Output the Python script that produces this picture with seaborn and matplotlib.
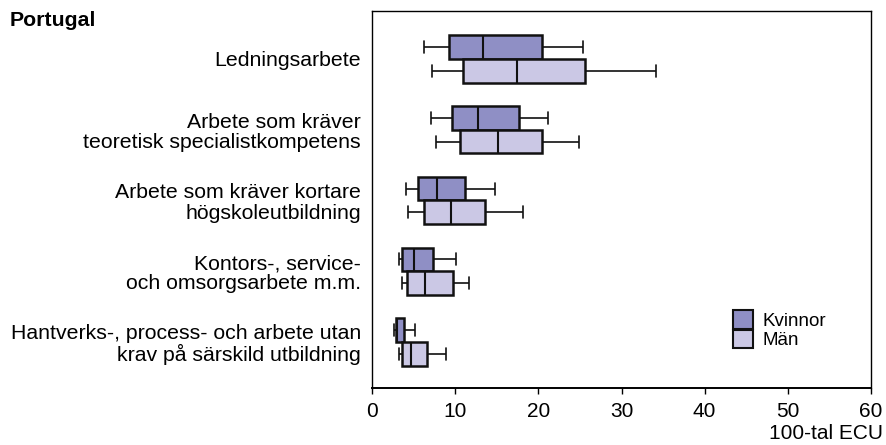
import numpy as np
import pandas as pd
import seaborn as sns
import matplotlib.pyplot as plt
from matplotlib.patches import Patch

# ================================================================
# Data (five-number summaries, 100-tal ECU)
# ================================================================

categories = [
    "Ledningsarbete",
    "Arbete som kräver\nteoretisk specialistkompetens",
    "Arbete som kräver kortare\nhögskoleutbildning",
    "Kontors-, service-\noch omsorgsarbete m.m.",
    "Hantverks-, process- och arbete utan\nkrav på särskild utbildning",
]
groups = ["Kvinnor", "Män"]

kvinnor_low = [6.3, 7.05, 4.1, 3.3, 2.7]
kvinnor_q1 = [9.3, 9.65, 5.5, 3.65, 2.9]
kvinnor_median = [13.4, 12.75, 7.8, 5.05, 3.0]
kvinnor_q3 = [20.5, 17.7, 11.2, 7.3, 3.8]
kvinnor_high = [25.4, 21.15, 14.8, 10.1, 5.2]

man_low = [7.2, 7.65, 4.3, 3.6, 3.2]
man_q1 = [11.0, 10.6, 6.3, 4.25, 3.65]
man_median = [17.4, 15.15, 9.45, 6.4, 4.7]
man_q3 = [25.6, 20.4, 13.6, 9.7, 6.6]
man_high = [34.1, 24.85, 18.2, 11.7, 8.9]

colors = {"Kvinnor": "#8f8fc5", "Män": "#cbc8e5"}


def build_frame():
    """Five values per box: with whis=(0, 100) they give exactly min/q1/median/q3/max."""
    rows = []
    series = {
        "Kvinnor": (kvinnor_low, kvinnor_q1, kvinnor_median, kvinnor_q3, kvinnor_high),
        "Män": (man_low, man_q1, man_median, man_q3, man_high),
    }
    for grp, stats in series.items():
        for i, cat in enumerate(categories):
            for s in stats:
                rows.append({"kategori": cat, "kön": grp, "värde": s[i]})
    return pd.DataFrame(rows)


# ================================================================
# Plot
# ================================================================

sns.set_style("ticks")
plt.rcParams["font.family"] = ["Liberation Sans", "DejaVu Sans"]
plt.rcParams["text.color"] = "black"
plt.rcParams["xtick.color"] = "black"
plt.rcParams["ytick.color"] = "black"
plt.rcParams["axes.labelcolor"] = "black"

df = build_frame()

fig = plt.figure(figsize=(8.86, 4.45), dpi=100)
ax = fig.add_axes([372 / 886, 1 - 388 / 445, 499 / 886, 377 / 445])

line = "#111111"
sns.boxplot(
    data=df, x="värde", y="kategori", hue="kön",
    order=categories, hue_order=groups, palette=colors,
    saturation=1, width=0.67, gap=0, whis=(0, 100), orient="h",
    legend=False, ax=ax,
    boxprops={"edgecolor": line, "linewidth": 1.8},
    whiskerprops={"color": line, "linewidth": 1.2},
    capprops={"color": line, "linewidth": 1.2},
    medianprops={"color": line, "linewidth": 1.5},
)

ax.set_xlim(0, 60)
ax.set_ylim(4.65, -0.678)
ax.set_xticks([0, 10, 20, 30, 40, 50, 60])
ax.set_ylabel("")
ax.set_xlabel("100-tal ECU", fontsize=15, loc="right")
ax.xaxis.set_label_coords(1.024, -0.095)

ax.tick_params(axis="x", labelsize=15, length=4, width=1,
               direction="out", pad=6)
ax.tick_params(axis="y", labelsize=15.3, length=0, pad=8)
for lab in ax.get_yticklabels():
    lab.set_linespacing(1.08)

for side in ["top", "right", "left"]:
    ax.spines[side].set_visible(True)
    ax.spines[side].set_color("black")
    ax.spines[side].set_linewidth(1.0)
ax.spines["bottom"].set_color("black")
ax.spines["bottom"].set_linewidth(1.4)

handles = [Patch(facecolor=colors[g], edgecolor=line, linewidth=1.5, label=g) for g in groups]
ax.legend(handles=handles, loc="upper left", bbox_to_anchor=((733 - 372) / 499, (388 - 310) / 377),
          frameon=False, fontsize=13.5, handlelength=1.05, handleheight=1.15,
          labelspacing=0, handletextpad=0.55, borderpad=0, borderaxespad=0)

fig.text(10 / 886, 1 - 11 / 445, "Portugal", fontsize=15.3, fontweight="bold",
         ha="left", va="top")

fig.savefig("out.png", dpi=100)
